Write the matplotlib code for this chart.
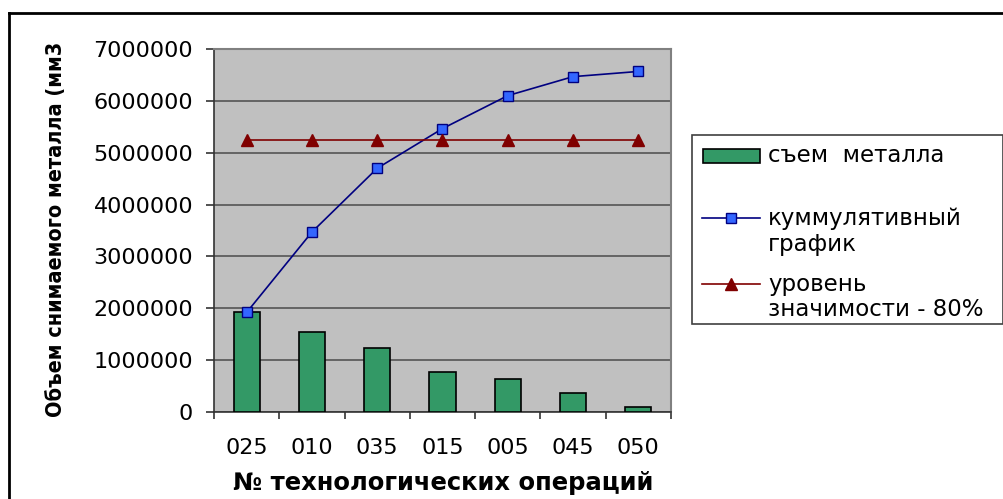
import matplotlib.pyplot as plt
from matplotlib.lines import Line2D
from matplotlib.patches import Rectangle

# operations sorted by metal removal
operations = ['025', '010', '035', '015', '005', '045', '050']
removal = [1920000, 1550000, 1230000, 765000, 636000, 366000, 100000]
cumulative = [1920000, 3470000, 4700000, 5465000, 6101000, 6467000, 6567000]
level_80 = [5254000] * 7
y_ticks = [0, 1000000, 2000000, 3000000, 4000000, 5000000, 6000000, 7000000]

plt.rcParams['font.family'] = ['DejaVu Sans']

W, H = 1004, 499
fig = plt.figure(figsize=(W / 100, H / 100), dpi=100)
ax = fig.add_axes([214 / W, 1 - 412 / H, (671 - 214) / W, (412 - 49) / H])
ax.set_facecolor('#c0c0c0')

x = list(range(len(operations)))
ax.bar(x, removal, width=0.4, color='#339966', edgecolor='black', linewidth=1.2, zorder=3)
ax.plot(x, cumulative, color='#000080', lw=1.2, marker='s', markersize=7,
        markerfacecolor='#3366ff', markeredgecolor='#000080', zorder=4)
ax.plot(x, level_80, color='#800000', lw=1.2, marker='^', markersize=9,
        markerfacecolor='#800000', markeredgecolor='#800000', zorder=4)

ax.set_xlim(-0.5, len(operations) - 0.5)
ax.set_ylim(0, 7000000)
ax.set_yticks(y_ticks)
ax.set_yticklabels([str(v) for v in y_ticks])
ax.yaxis.grid(True, color='#555555', lw=1.2, zorder=0)
ax.set_axisbelow(True)

ax.set_xticks(x)
ax.set_xticklabels(operations)
ax.set_xticks([i - 0.5 for i in range(len(operations) + 1)], minor=True)
ax.tick_params(axis='x', which='major', length=0, pad=19, labelsize=16)
ax.tick_params(axis='x', which='minor', length=5, width=1.2, direction='out', color='#333333')
ax.tick_params(axis='y', length=6, width=1.2, pad=9, labelsize=16, color='#333333')

for side in ['top', 'right']:
    ax.spines[side].set_color('#808080')
    ax.spines[side].set_linewidth(1.5)
for side in ['left', 'bottom']:
    ax.spines[side].set_color('#333333')
    ax.spines[side].set_linewidth(1.2)

fig.text(443 / W, 1 - 483 / H, '№ технологических операций', ha='center', va='center',
         fontsize=17.5, fontweight='bold')
fig.text(56 / W, 1 - 229 / H, 'Объем снимаемого металла (мм3', ha='center', va='center',
         rotation=90, fontsize=15.5, fontweight='bold', fontstretch='condensed')

# legend box
fig.patches.append(Rectangle((692 / W, 1 - 324 / H), (1003 - 692) / W, (324 - 135) / H,
                             transform=fig.transFigure, facecolor='white',
                             edgecolor='#404040', lw=1.2))
fig.patches.append(Rectangle((703 / W, 1 - 163 / H), (760 - 703) / W, 14 / H,
                             transform=fig.transFigure, facecolor='#339966',
                             edgecolor='black', lw=1.2))
fig.lines.append(Line2D([702 / W, 760 / W], [1 - 218 / H] * 2, transform=fig.transFigure,
                        color='#000080', lw=1.2))
fig.lines.append(Line2D([731 / W], [1 - 218 / H], transform=fig.transFigure, marker='s',
                        markersize=7, markerfacecolor='#3366ff', markeredgecolor='#000080'))
fig.lines.append(Line2D([702 / W, 760 / W], [1 - 284 / H] * 2, transform=fig.transFigure,
                        color='#800000', lw=1.2))
fig.lines.append(Line2D([731 / W], [1 - 284 / H], transform=fig.transFigure, marker='^',
                        markersize=9, markerfacecolor='#800000', markeredgecolor='#800000'))
legend_rows = [('съем  металла', 155), ('куммулятивный', 218), ('график', 244),
               ('уровень', 284), ('значимости - 80%', 309)]
for txt, yy in legend_rows:
    fig.text(768 / W, 1 - yy / H, txt, ha='left', va='center', fontsize=16.5)

# outer frame
fig.lines.append(Line2D([9 / W, 9 / W], [0, 1 - 13 / H], transform=fig.transFigure,
                        color='black', lw=2))
fig.lines.append(Line2D([9 / W, 1], [1 - 13 / H] * 2, transform=fig.transFigure,
                        color='black', lw=2))

fig.savefig('out.png', dpi=100)
